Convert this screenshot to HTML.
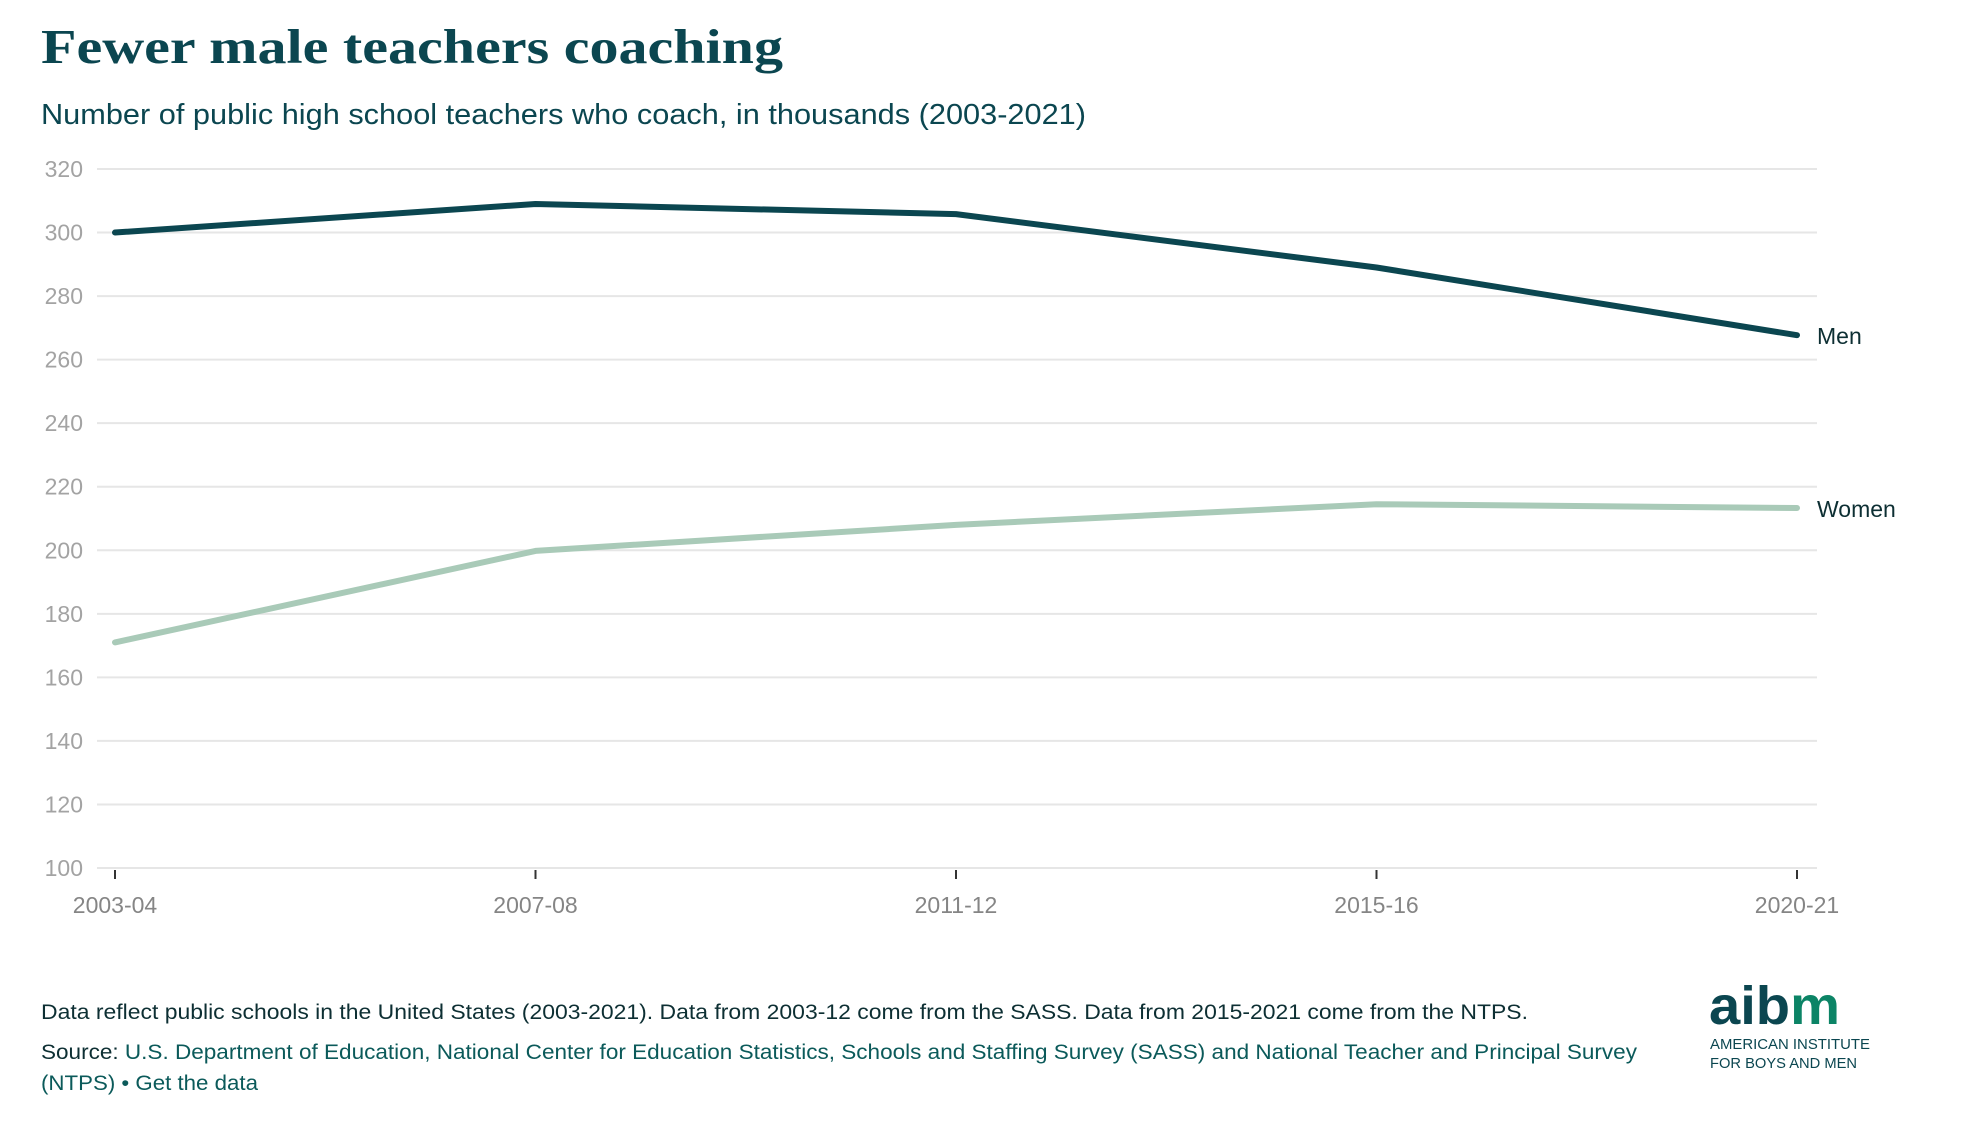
<!DOCTYPE html>
<html><head><meta charset="utf-8"><style>
html,body{margin:0;padding:0;background:#fff;}
svg{display:block;}
</style></head><body>
<svg id="chart" width="1962" height="1124" viewBox="0 0 1962 1124" xmlns="http://www.w3.org/2000/svg">
<text x="41" y="63" font-family="Liberation Serif, serif" font-weight="bold" font-size="49" fill="#0b4650" textLength="742" lengthAdjust="spacingAndGlyphs">Fewer male teachers coaching</text>
<text x="41" y="124" font-family="Liberation Sans, sans-serif" font-size="29" fill="#0b4650" textLength="1045" lengthAdjust="spacingAndGlyphs">Number of public high school teachers who coach, in thousands (2003-2021)</text>
<g id="grid"></g>
<g id="yaxis"></g>
<g id="xaxis"></g>
<g id="series"></g>
<text x="41" y="1019" font-family="Liberation Sans, sans-serif" font-size="21" fill="#0d2f33" textLength="1487" lengthAdjust="spacingAndGlyphs">Data reflect public schools in the United States (2003-2021). Data from 2003-12 come from the SASS. Data from 2015-2021 come from the NTPS.</text>
<text x="41" y="1059" font-family="Liberation Sans, sans-serif" font-size="21" fill="#0b5a5a" textLength="1596" lengthAdjust="spacingAndGlyphs"><tspan fill="#0d2f33">Source:</tspan> U.S. Department of Education, National Center for Education Statistics, Schools and Staffing Survey (SASS) and National Teacher and Principal Survey</text>
<text x="41" y="1090" font-family="Liberation Sans, sans-serif" font-size="21" fill="#0b5a5a" textLength="217" lengthAdjust="spacingAndGlyphs">(NTPS) • <tspan>Get the data</tspan></text>
<g>
<text x="1709" y="1024" font-family="Liberation Sans, sans-serif" font-weight="bold" font-size="54" textLength="131" lengthAdjust="spacingAndGlyphs"><tspan fill="#0b4650">aib</tspan><tspan fill="#0c8466">m</tspan></text>
<text x="1710" y="1049" font-family="Liberation Sans, sans-serif" font-size="14.5" fill="#0b4650" textLength="160" lengthAdjust="spacingAndGlyphs">AMERICAN INSTITUTE</text>
<text x="1710" y="1068" font-family="Liberation Sans, sans-serif" font-size="14.5" fill="#0b4650" textLength="147" lengthAdjust="spacingAndGlyphs">FOR BOYS AND MEN</text>
</g>
</svg>
<script>
const categories = ["2003-04","2007-08","2011-12","2015-16","2020-21"];
const menValues = [300, 309, 305.8, 289, 267.7];
const womenValues = [171, 199.8, 208, 214.5, 213.3];
const yTicks = [100,120,140,160,180,200,220,240,260,280,300,320];
const seriesNames = ["Men","Women"];

const NS="http://www.w3.org/2000/svg";
const X0=115, X1=1797, GL=97, GR=1817, YTOP=169, YBOT=868, YMIN=100, YMAX=320;
function xScale(i){return X0+(X1-X0)*i/(categories.length-1);}
function yScale(v){return YBOT-(v-YMIN)/(YMAX-YMIN)*(YBOT-YTOP);}
function mk(tag,attrs,parent){const e=document.createElementNS(NS,tag);for(const k in attrs)e.setAttribute(k,attrs[k]);parent.appendChild(e);return e;}
const grid=document.getElementById('grid'),ya=document.getElementById('yaxis'),xa=document.getElementById('xaxis'),sg=document.getElementById('series');
yTicks.forEach(t=>{
  const l=mk('line',{x1:GL,x2:GR,y1:yScale(t),y2:yScale(t),stroke:'#e6e6e6','stroke-width':2},grid);
  
  
  const tx=mk('text',{x:83,y:yScale(t)+8,'text-anchor':'end','font-family':'Liberation Sans, sans-serif','font-size':23,fill:'#a3a3a3'},ya);
  tx.textContent=t;
  
  
});
categories.forEach((c,i)=>{
  const tk=mk('line',{x1:xScale(i),x2:xScale(i),y1:YBOT+2,y2:YBOT+11,stroke:'#333','stroke-width':2},xa);
  
  
  const tx=mk('text',{x:xScale(i),y:913,'text-anchor':'middle','font-family':'Liberation Sans, sans-serif','font-size':23,fill:'#858585'},xa);
  tx.textContent=c;
  
  
});
function drawLine(vals,color,name,label){
  const d=vals.map((v,i)=>(i?'L':'M')+xScale(i)+','+yScale(v)).join(' ');
  const p=mk('path',{d:d,fill:'none',stroke:color,'stroke-width':6,'stroke-linecap':'round','stroke-linejoin':'round'},sg);
  
  
  const last=vals[vals.length-1];
  const t=mk('text',{x:X1+20,y:yScale(last)+9,'font-family':'Liberation Sans, sans-serif','font-size':23,fill:'#0d2f33'},sg);
  t.textContent=label;
  
  
}
drawLine(womenValues,'#a9cab8','women',seriesNames[1]);
drawLine(menValues,'#0b4650','men',seriesNames[0]);
</script>
</body></html>
